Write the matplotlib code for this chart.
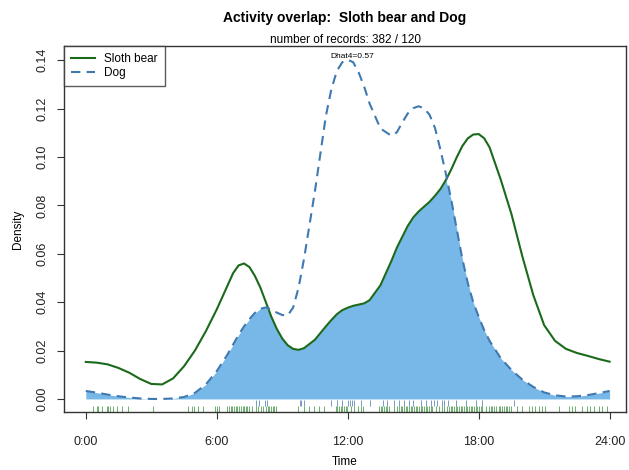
import numpy as np
import matplotlib.pyplot as plt

plt.rcParams['font.family'] = ['Liberation Sans', 'DejaVu Sans']

# kernel density estimates (density per hour) on a shared clock-time grid
hours = [0, 0.5, 1, 1.5, 2, 2.5, 3, 3.5, 4, 4.5, 5, 5.5, 6, 6.5, 6.75, 7, 7.25, 7.5, 7.75,
         8, 8.25, 8.5, 8.75, 9, 9.25, 9.5, 9.75, 10, 10.5, 11, 11.25, 11.5, 11.75, 12,
         12.25, 12.5, 12.75, 13, 13.5, 14, 14.25, 14.5, 14.75, 15, 15.25, 15.5, 15.75,
         16, 16.25, 16.5, 16.75, 17, 17.25, 17.5, 17.75, 18, 18.25, 18.5, 19, 19.5, 20,
         20.5, 21, 21.5, 22, 22.5, 23, 23.5, 24]
bear_density = [0.0153, 0.0150, 0.0143, 0.0128, 0.0108, 0.0082, 0.0062, 0.0060, 0.0085,
                0.0135, 0.0200, 0.0280, 0.0370, 0.0470, 0.0520, 0.0552, 0.0560, 0.0545,
                0.0508, 0.0460, 0.0400, 0.0340, 0.0290, 0.0250, 0.0222, 0.0207, 0.0203,
                0.0210, 0.0245, 0.0300, 0.0326, 0.0350, 0.0367, 0.0377, 0.0385, 0.0390,
                0.0395, 0.0408, 0.0470, 0.0570, 0.0625, 0.0670, 0.0715, 0.0750, 0.0775,
                0.0795, 0.0815, 0.0840, 0.0868, 0.0905, 0.0950, 0.1000, 0.1045, 0.1077,
                0.1093, 0.1095, 0.1078, 0.1040, 0.0910, 0.0765, 0.0590, 0.0430, 0.0305,
                0.0240, 0.0207, 0.0190, 0.0178, 0.0165, 0.0154]
dog_density = [0.0033, 0.0026, 0.0018, 0.0011, 0.0006, 0.0002, 0.0000, 0.0000, 0.0002,
               0.0008, 0.0025, 0.0060, 0.0115, 0.0185, 0.0225, 0.0265, 0.0300, 0.0330,
               0.0356, 0.0373, 0.0378, 0.0370, 0.0357, 0.0347, 0.0345, 0.0378, 0.0460,
               0.0580, 0.0860, 0.1170, 0.1280, 0.1355, 0.1392, 0.1402, 0.1392, 0.1350,
               0.1292, 0.1222, 0.1118, 0.1088, 0.1102, 0.1143, 0.1180, 0.1202, 0.1210,
               0.1201, 0.1175, 0.1120, 0.1030, 0.0930, 0.0820, 0.0700, 0.0580, 0.0480,
               0.0400, 0.0340, 0.0285, 0.0240, 0.0170, 0.0120, 0.0080, 0.0050, 0.0027,
               0.0015, 0.0010, 0.0011, 0.0016, 0.0024, 0.0033]

# detection times (hours) shown as rugs
bear_times = [0.32, 0.5, 0.55, 0.73, 0.96, 1.0, 1.1, 1.23, 1.42, 1.65, 1.92, 3.06, 4.66,
              4.85, 4.98, 5.12, 5.35, 5.9, 6.0, 6.1, 6.45, 6.58, 6.67, 6.72, 6.8, 6.9,
              6.95, 7.04, 7.13, 7.18, 7.27, 7.36, 7.4, 7.5, 7.63, 7.8, 7.88, 8.03, 8.11,
              8.26, 8.33, 8.41, 8.49, 8.56, 8.64, 8.72, 9.71, 10.01, 10.24, 10.47, 10.7,
              10.93, 11.46, 11.53, 11.61, 11.69, 11.76, 11.84, 11.92, 11.99, 12.15, 12.3,
              12.45, 12.6, 12.68, 13.44, 13.52, 13.59, 13.67, 13.75, 13.82, 13.9, 14.13,
              14.28, 14.35, 14.43, 14.5, 14.58, 14.66, 14.73, 14.81, 14.89, 14.96, 15.04,
              15.12, 15.19, 15.27, 15.35, 15.42, 15.5, 15.58, 15.65, 15.73, 15.8, 15.88,
              16.03, 16.18, 16.33, 16.41, 16.56, 16.64, 16.72, 16.79, 16.87, 16.95, 17.02,
              17.1, 17.17, 17.25, 17.33, 17.4, 17.48, 17.55, 17.63, 17.71, 17.78, 17.86,
              17.93, 18.01, 18.09, 18.16, 18.32, 18.47, 18.55, 18.62, 18.7, 18.78, 18.93,
              19.0, 19.08, 19.15, 19.23, 19.31, 19.38, 19.46, 19.76, 19.99, 20.3, 20.45,
              20.6, 20.75, 20.9, 21.06, 21.67, 22.13, 22.28, 22.43, 22.73, 22.96, 23.12,
              23.27, 23.5, 23.65, 23.88]
dog_times = [7.8, 7.95, 8.2, 8.3, 9.8, 9.87, 10.0, 11.25, 11.5, 11.75, 12.0, 12.1, 12.2,
             12.3, 12.6, 13.0, 13.6, 13.8, 14.1, 14.35, 14.6, 14.8, 15.0, 15.36, 15.6,
             15.8, 15.95, 16.1, 16.3, 16.4, 16.6, 16.95, 17.4, 17.9, 18.15, 19.6]

x_ticks = [0, 6, 12, 18, 24]
x_labels = ['0:00', '6:00', '12:00', '18:00', '24:00']
y_ticks = [0.00, 0.02, 0.04, 0.06, 0.08, 0.10, 0.12, 0.14]

bear_col = '#1b6a1b'
dog_col = '#4079b0'
fill_col = '#77b8e8'

fig = plt.figure(figsize=(6.29, 4.70), dpi=100)
ax = fig.add_axes([0.1017, 0.1234, 0.8935, 0.7787])

h = np.array(hours)
bear = np.array(bear_density)
dog = np.array(dog_density)
ax.fill_between(h, 0, np.minimum(bear, dog), color=fill_col, lw=0)
ax.plot(h, bear, color=bear_col, lw=1.5, solid_joinstyle='round', label='Sloth bear')
ax.plot(h, dog, color=dog_col, lw=1.5, ls=(0, (4.5, 3)), dash_joinstyle='round',
        label='Dog')

# rugs under the curves
ax.vlines(dog_times, -0.0030, -0.0004, color=dog_col, lw=0.6, alpha=0.85)
ax.vlines(bear_times, -0.0053, -0.0031, color='#2e8a2e', lw=0.6, alpha=0.8)

ax.set_xlim(-1.0, 24.75)
ax.set_ylim(-0.0054, 0.1459)
ax.set_xticks(x_ticks)
ax.set_xticklabels(x_labels)
ax.set_yticks(y_ticks)
ax.set_yticklabels([f'{v:.2f}' for v in y_ticks], rotation=90, va='center')
ax.tick_params(direction='out', length=5, labelsize=9, color='#333333', labelcolor='#222222')
ax.tick_params(axis='x', pad=12)
ax.tick_params(axis='y', pad=6)
for s in ax.spines.values():
    s.set_color('#333333')
    s.set_linewidth(1.0)

ax.set_xlabel('Time', fontsize=8.5, labelpad=6)
ax.set_ylabel('Density', fontsize=8.5, labelpad=9)

fig.text(0.5485, 0.962, 'Activity overlap:  Sloth bear and Dog', ha='center', va='center',
         fontsize=10, fontweight='bold')
fig.text(0.5485, 0.914, 'number of records: 382 / 120', ha='center', va='center', fontsize=8.5)
ax.text(12.2, 0.1415, 'Dhat4=0.57', ha='center', va='center', fontsize=6)

leg = ax.legend(loc='upper left', fontsize=8.5, frameon=True, fancybox=False,
                borderaxespad=0, handlelength=2.0, labelspacing=0.15,
                borderpad=0.6, handletextpad=0.8)
leg.get_frame().set_edgecolor('#333333')
leg.get_frame().set_linewidth(1.0)

fig.savefig('out.png', dpi=100)
